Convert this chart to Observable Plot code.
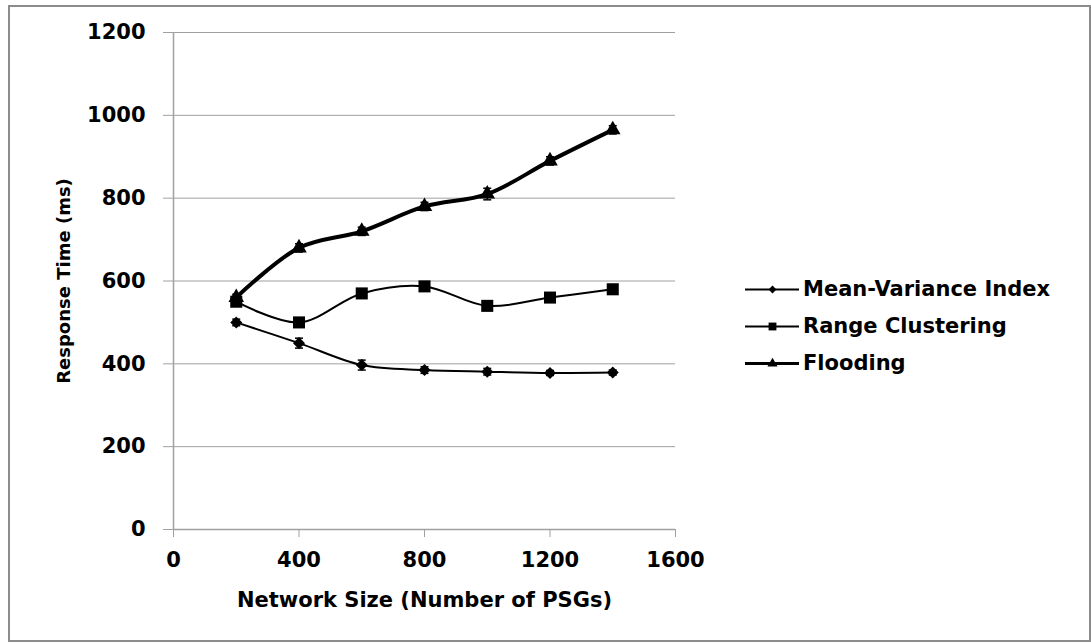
<!DOCTYPE html>
<html>
<head>
<meta charset="utf-8">
<script src="https://cdn.jsdelivr.net/npm/d3@7"></script>
<script src="https://cdn.jsdelivr.net/npm/@observablehq/plot@0.6"></script>
<style>
  html, body { margin: 0; padding: 0; background: #fff; }
  #wrap { position: relative; width: 1091px; height: 643px; font-family: "DejaVu Sans", sans-serif; font-weight: bold; }
  #frame { position: absolute; left: 8px; top: 5px; width: 1079px; height: 633px; border: 2px solid #8c8c8c; pointer-events: none; }
  #chart { position: absolute; left: 0; top: 0; }
  #legend { position: absolute; left: 745px; top: 270px; }
  .row { display: flex; align-items: center; height: 37px; font-size: 21px; color: #000; white-space: nowrap; }
  .row svg { margin-right: 4px; }
</style>
</head>
<body>
<div id="wrap">
  <div id="chart"></div>
  <div id="frame"></div>
  <div id="legend"></div>
</div>
<script>
// ---- data ----
const networkSizes = [200, 400, 600, 800, 1000, 1200, 1400];
const seriesNames = ["Mean-Variance Index", "Range Clustering", "Flooding"];
const meanVariance = [500, 450, 397, 385, 381, 378, 379];
const meanVarianceErr = [8, 12, 12, 8, 8, 6, 6];
const rangeClustering = [550, 500, 570, 587, 540, 560, 580];
const rangeClusteringErr = [6, 6, 6, 6, 6, 6, 6];
const flooding = [560, 680, 720, 780, 810, 890, 965];
const floodingErr = [8, 10, 10, 10, 14, 10, 10];
const xTicks = [0, 400, 800, 1200, 1600];
const yTicks = [0, 200, 400, 600, 800, 1000, 1200];
const xTitle = "Network Size (Number of PSGs)";
const yTitle = "Response Time (ms)";

const seriesValues = [meanVariance, rangeClustering, flooding];
const seriesErrs = [meanVarianceErr, rangeClusteringErr, floodingErr];
const data = [];
seriesNames.forEach((name, si) => {
  networkSizes.forEach((x, i) => {
    data.push({series: name, x, y: seriesValues[si][i], lo: seriesValues[si][i] - seriesErrs[si][i], hi: seriesValues[si][i] + seriesErrs[si][i]});
  });
});
const bySeries = name => data.filter(d => d.series === name);

const capSymbol = {
  draw(context, size) {
    const w = 4;
    context.moveTo(-w, 0);
    context.lineTo(w, 0);
  }
};

const markerStyle = {
  "Mean-Variance Index": {symbol: "square", r: 4.8, rotate: 45, width: 2},
  "Range Clustering": {symbol: "square", r: 6.8, rotate: 0, width: 2},
  "Flooding": {symbol: "triangle", r: 5.8, rotate: 0, width: 4}
};

const font = "'DejaVu Sans', sans-serif";
const gray = "#a0a0a0";
const fmt = d => String(d);
const marks = [
  Plot.gridY(yTicks, {stroke: gray, strokeOpacity: 1, strokeWidth: 1}),
  Plot.ruleX([0], {stroke: gray, strokeWidth: 1.5}),
  Plot.ruleY([0], {stroke: gray, strokeWidth: 1.5}),
  Plot.axisY(yTicks, {tickSize: 10, tickPadding: 18, stroke: gray, fill: "#000", fontSize: 21, fontWeight: "bold", tickFormat: fmt, label: null}),
  Plot.axisX(xTicks, {tickSize: 8, tickPadding: 15, stroke: gray, fill: "#000", fontSize: 21, fontWeight: "bold", tickFormat: fmt, label: null}),
  Plot.text([yTitle], {frameAnchor: "left", rotate: -90, dx: -109, textAnchor: "middle", lineAnchor: "middle", fontSize: 18, fontWeight: "bold", fill: "#000"}),
  Plot.text([xTitle], {frameAnchor: "bottom", dy: 71, textAnchor: "middle", lineAnchor: "middle", fontSize: 21, fontWeight: "bold", fill: "#000"})
];
seriesNames.forEach(name => {
  const st = markerStyle[name];
  const d = bySeries(name);
  marks.push(
    Plot.line(d, {x: "x", y: "y", curve: "catmull-rom", stroke: "#000", strokeWidth: st.width}),
    Plot.ruleX(d, {x: "x", y1: "lo", y2: "hi", stroke: "#000", strokeWidth: 1.5}),
    Plot.dot(d, {x: "x", y: "lo", symbol: capSymbol, r: 3, stroke: "#000", strokeWidth: 1.5}),
    Plot.dot(d, {x: "x", y: "hi", symbol: capSymbol, r: 3, stroke: "#000", strokeWidth: 1.5}),
    Plot.dot(d, {x: "x", y: "y", symbol: st.symbol, r: st.r, rotate: st.rotate, fill: "#000", stroke: "none"})
  );
});

const chart = Plot.plot({
  width: 1091,
  height: 643,
  marginLeft: 173,
  marginRight: 416,
  marginTop: 32,
  marginBottom: 114,
  style: {fontFamily: font, background: "transparent", overflow: "visible"},
  x: {domain: [0, 1600], axis: null},
  y: {domain: [0, 1200], axis: null},
  marks
});
document.getElementById("chart").appendChild(chart);

// ---- legend ----
const legend = document.getElementById("legend");
seriesNames.forEach(name => {
  const st = markerStyle[name];
  const row = document.createElement("div");
  row.className = "row";
  const sw = Plot.plot({
    width: 54, height: 16, margin: 0,
    x: {domain: [0, 1], axis: null},
    y: {domain: [0, 1], axis: null},
    style: {background: "transparent", overflow: "visible"},
    marks: [
      Plot.ruleY([{y: 0.5}], {y: "y", stroke: "#000", strokeWidth: Math.max(2, st.width - 1)}),
      Plot.dot([{x: 0.5, y: 0.5}], {x: "x", y: "y", symbol: st.symbol, r: st.r * 0.65, rotate: st.rotate, fill: "#000"})
    ]
  });
  row.appendChild(sw);
  const t = document.createElement("span");
  t.textContent = name;
  row.appendChild(t);
  legend.appendChild(row);
});
</script>
</body>
</html>
